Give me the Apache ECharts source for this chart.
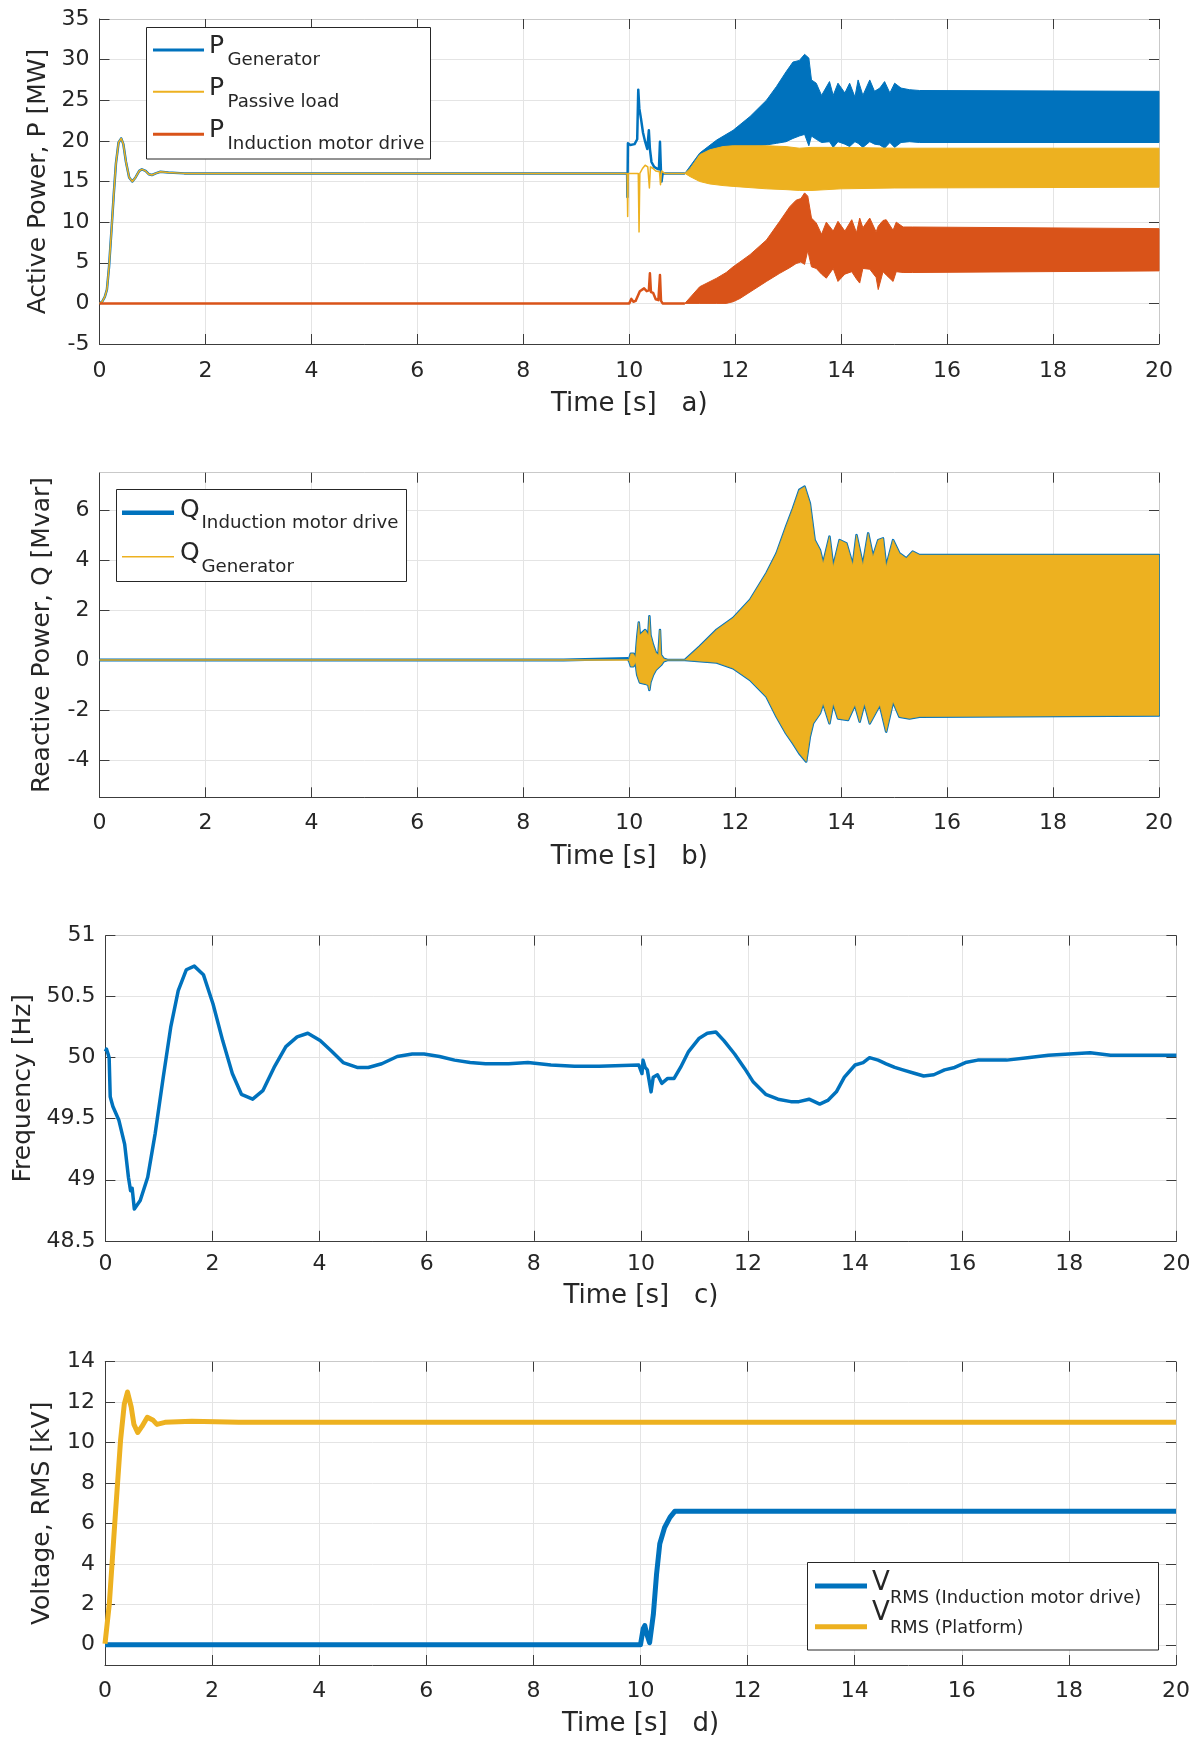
<!DOCTYPE html>
<html>
<head>
<meta charset="utf-8">
<script src="https://cdn.jsdelivr.net/npm/echarts@6/dist/echarts.min.js"></script>
<style>
  html, body { margin: 0; padding: 0; background: #ffffff; }
  #chart { width: 1203px; height: 1740px; }
</style>
</head>
<body>
<div id="chart"></div>
<script>
// ---------------- a) Active power [MW] ----------------
// Generator: start-up transient, switching events near 10 s (line part)
const pGenT = [0, 0.05, 0.1, 0.14, 0.18, 0.23, 0.27, 0.31, 0.36, 0.41, 0.45, 0.5, 0.56, 0.62, 0.68, 0.75, 0.8, 0.87, 0.93, 0.99, 1.06, 1.15, 1.3, 1.6,
  9.96, 9.965, 9.975, 10.02, 10.1, 10.15, 10.17, 10.19, 10.22, 10.26, 10.3, 10.34, 10.37, 10.39, 10.42, 10.47, 10.52, 10.56, 10.58, 10.6, 10.61, 10.63, 10.67, 11.05];
const pGenV = [0, 0.2, 0.8, 1.7, 4.5, 9.4, 13.5, 17.2, 19.8, 20.3, 19.6, 17.4, 15.5, 15.0, 15.5, 16.3, 16.5, 16.3, 15.9, 15.8, 16.0, 16.2, 16.1, 16.0,
  16.0, 13.1, 19.7, 19.5, 19.6, 20.2, 26.3, 24.0, 22.8, 21.0, 19.9, 19.0, 21.3, 19.0, 17.4, 16.8, 16.6, 16.5, 19.9, 16.0, 15.0, 16.0, 16.0, 16.0];
// Generator: oscillating band after 11 s (upper / lower envelope)
const pGenBandT  = [11.05, 11.33, 11.65, 11.96, 12.28, 12.59, 12.78, 12.96, 13.09, 13.21, 13.31, 13.39, 13.44, 13.53, 13.63, 13.78, 13.85, 13.94, 14.07, 14.16, 14.26, 14.32, 14.41, 14.54, 14.63, 14.73, 14.82, 14.92, 15.01, 15.13, 15.29, 15.48, 20.0];
const pGenBandHi = [16.0, 18.5, 20.1, 21.3, 23.0, 25.0, 26.7, 28.5, 29.7, 29.9, 30.65, 30.2, 27.5, 27.1, 25.6, 27.3, 25.6, 27.1, 25.9, 27.1, 25.4, 27.5, 25.6, 27.5, 26.1, 26.5, 27.3, 25.9, 27.1, 26.5, 26.3, 26.2, 26.1];
const pGenBandLo = [16.0, 17.4, 18.4, 19.0, 19.3, 19.5, 19.7, 19.9, 20.3, 20.6, 20.8, 19.4, 20.6, 20.2, 19.8, 19.9, 19.2, 19.9, 19.6, 19.3, 19.9, 19.7, 19.2, 19.9, 19.6, 19.5, 19.1, 19.8, 19.2, 19.8, 19.9, 19.8, 19.8];

// Passive load
const pLoadT = [0, 0.05, 0.1, 0.14, 0.18, 0.23, 0.27, 0.31, 0.36, 0.41, 0.45, 0.5, 0.56, 0.62, 0.68, 0.75, 0.8, 0.87, 0.93, 0.99, 1.06, 1.15, 1.3, 1.6,
  9.96, 9.97, 9.98, 10.17, 10.185, 10.2, 10.25, 10.3, 10.35, 10.38, 10.4, 10.45, 10.5, 10.57, 10.59, 10.61, 10.67, 11.05];
const pLoadV = [0, 0.2, 0.8, 1.7, 4.5, 9.4, 13.5, 17.2, 19.8, 20.3, 19.6, 17.4, 15.5, 15.0, 15.5, 16.3, 16.5, 16.3, 15.9, 15.8, 16.0, 16.2, 16.1, 16.0,
  16.0, 10.7, 16.0, 16.0, 8.8, 16.0, 16.6, 17.0, 16.8, 14.2, 16.8, 16.6, 16.3, 16.2, 14.6, 16.3, 16.0, 16.0];
const pLoadBandT  = [11.05, 11.15, 11.33, 11.52, 11.77, 11.96, 12.59, 12.96, 13.21, 13.45, 14.0, 15.0, 20.0];
const pLoadBandHi = [16.0, 16.6, 18.3, 18.9, 19.3, 19.4, 19.4, 19.3, 19.1, 19.2, 19.2, 19.1, 19.1];
const pLoadBandLo = [16.0, 15.6, 15.0, 14.7, 14.5, 14.4, 14.1, 14.0, 13.9, 13.9, 14.1, 14.2, 14.3];

// Induction motor drive
const pImT = [0, 10.0, 10.04, 10.08, 10.12, 10.2, 10.28, 10.33, 10.37, 10.39, 10.41, 10.45, 10.5, 10.55, 10.57, 10.58, 10.6, 10.63, 11.05];
const pImV = [0, 0, 0.55, 0.2, 0.3, 1.5, 1.85, 1.5, 1.6, 3.7, 1.4, 1.3, 0.5, 0.4, 0.6, 3.5, 0.3, 0.0, 0];
const pImBandT  = [11.05, 11.33, 11.65, 11.83, 11.96, 12.09, 12.28, 12.59, 12.84, 13.03, 13.15, 13.24, 13.31, 13.37, 13.44, 13.53, 13.63, 13.72, 13.85, 13.94, 14.07, 14.2, 14.29, 14.35, 14.41, 14.54, 14.66, 14.7, 14.79, 14.85, 14.98, 15.04, 15.17, 15.35, 20.0];
const pImBandHi = [0, 2.05, 3.1, 3.8, 4.5, 5.1, 6.0, 7.8, 10.1, 11.9, 12.7, 12.9, 13.6, 13.2, 10.5, 9.9, 8.5, 10.0, 8.9, 10.1, 8.9, 10.3, 8.7, 10.5, 9.3, 10.5, 8.8, 9.5, 10.2, 10.3, 9.0, 10.0, 9.4, 9.4, 9.2];
const pImBandLo = [0, 0, 0, 0, 0.2, 0.6, 1.4, 2.7, 3.7, 4.4, 4.9, 5.1, 4.8, 6.5, 4.5, 4.3, 3.6, 3.1, 4.3, 2.7, 3.6, 3.9, 3.0, 2.5, 4.3, 4.2, 3.2, 1.7, 3.9, 3.5, 2.7, 3.9, 3.8, 3.8, 4.0];

// ---------------- b) Reactive power [Mvar] ----------------
const qImT = [0, 8.76, 8.77, 9.98];
const qImV = [0, 0, 0.06, 0.06];
const qGenT = [0, 9.98];
const qGenV = [0, 0];
// shared oscillation envelope of both reactive-power traces
const qBandHiT = [9.98, 10.0, 10.03, 10.08, 10.12, 10.15, 10.18, 10.2, 10.3, 10.36, 10.38, 10.4, 10.45, 10.5, 10.55, 10.58, 10.6, 10.65, 10.72, 11.05,
  11.33, 11.65, 11.96, 12.28, 12.59, 12.78, 12.96, 13.09, 13.21, 13.31, 13.41, 13.5, 13.6, 13.66, 13.78, 13.85, 13.97, 14.1, 14.22, 14.29,
  14.41, 14.51, 14.6, 14.7, 14.79, 14.85, 14.98, 15.1, 15.23, 15.35, 15.48, 20.0];
const qBandHi = [0, 0.05, 0.25, 0.25, 0.1, 0.9, 1.5, 1.0, 1.2, 1.0, 1.75, 1.0, 0.6, 0.3, 0.2, 1.2, 0.2, 0.05, 0, 0,
  0.54, 1.21, 1.68, 2.41, 3.48, 4.27, 5.34, 6.07, 6.81, 6.94, 6.27, 4.8, 4.4, 3.87, 4.94, 3.74, 4.8, 4.67, 3.8, 5.0,
  3.8, 5.07, 4.14, 4.8, 4.87, 3.74, 4.8, 4.27, 4.07, 4.34, 4.2, 4.2];
const qBandLoT = [9.98, 10.0, 10.03, 10.08, 10.12, 10.15, 10.2, 10.3, 10.36, 10.38, 10.4, 10.45, 10.5, 10.55, 10.6, 10.65, 10.72, 11.05, 11.65, 11.96,
  12.28, 12.59, 12.78, 12.96, 13.09, 13.21, 13.34, 13.41, 13.47, 13.6, 13.66, 13.78, 13.85, 13.94, 14.13, 14.26, 14.35, 14.44, 14.54, 14.73,
  14.85, 14.98, 15.1, 15.29, 15.48, 20.0];
const qBandLo = [0, -0.05, -0.25, -0.25, -0.1, -0.6, -0.9, -0.95, -1.0, -1.2, -0.9, -0.6, -0.4, -0.3, -0.2, -0.05, 0, 0, -0.1, -0.33,
  -0.8, -1.47, -2.27, -2.94, -3.34, -3.74, -4.07, -3.07, -2.54, -2.14, -1.74, -2.54, -1.74, -2.34, -2.4, -1.8, -2.47, -1.74, -2.54, -1.8,
  -2.87, -1.67, -2.27, -2.34, -2.27, -2.22];

// ---------------- c) Frequency [Hz] ----------------
const freqT = [0, 0.02, 0.05, 0.07, 0.09, 0.14, 0.25, 0.36, 0.43, 0.47,
  0.5, 0.54, 0.65, 0.79, 0.93, 1.08, 1.22, 1.36, 1.51, 1.66,
  1.83, 2.01, 2.19, 2.37, 2.54, 2.75, 2.94, 3.15, 3.37, 3.58,
  3.78, 4.01, 4.23, 4.44, 4.7, 4.91, 5.16, 5.45, 5.73, 5.95,
  6.24, 6.52, 6.81, 7.1, 7.53, 7.89, 8.32, 8.76, 9.22, 9.96,
  10.02, 10.04, 10.08, 10.12, 10.19, 10.23, 10.31, 10.39, 10.5, 10.62,
  10.74, 10.89, 11.09, 11.24, 11.4, 11.55, 11.75, 11.94, 12.1, 12.33,
  12.56, 12.8, 12.95, 13.14, 13.34, 13.49, 13.65, 13.8, 14.0, 14.15,
  14.27, 14.43, 14.58, 14.74, 14.89, 15.12, 15.28, 15.47, 15.67, 15.86,
  16.06, 16.29, 16.52, 16.83, 17.22, 17.61, 18.0, 18.39, 18.77, 19.16,
  19.55, 20.0];
const freqV = [50.05, 50.07, 50.03, 50.0, 49.68, 49.6, 49.49, 49.29, 49.02, 48.91,
  48.93, 48.76, 48.83, 49.02, 49.38, 49.84, 50.25, 50.55, 50.72, 50.75,
  50.68, 50.44, 50.14, 49.87, 49.7, 49.66, 49.73, 49.92, 50.09, 50.17,
  50.2, 50.14, 50.05, 49.96, 49.92, 49.92, 49.95, 50.01, 50.03, 50.03,
  50.01, 49.98, 49.96, 49.95, 49.95, 49.96, 49.94, 49.93, 49.93, 49.94,
  49.87, 49.98, 49.92, 49.9, 49.72, 49.84, 49.86, 49.79, 49.83, 49.83,
  49.92, 50.05, 50.16, 50.2, 50.21, 50.14, 50.03, 49.91, 49.8, 49.7,
  49.66, 49.64, 49.64, 49.66, 49.62, 49.65, 49.72, 49.84, 49.94, 49.96,
  50.0, 49.98, 49.95, 49.92, 49.9, 49.87, 49.85, 49.86, 49.9, 49.92,
  49.96, 49.98, 49.98, 49.98, 50.0, 50.02, 50.03, 50.04, 50.02, 50.02,
  50.02, 50.02];

// ---------------- d) RMS voltage [kV] ----------------
const vImT = [0, 10.0, 10.05, 10.08, 10.11, 10.17, 10.24, 10.3, 10.36, 10.45, 10.55, 10.64, 20];
const vImV = [0, 0, 0.8, 0.95, 0.6, 0.1, 1.5, 3.5, 5.0, 5.8, 6.3, 6.6, 6.6];
const vPlatT = [0, 0.08, 0.19, 0.29, 0.36, 0.42, 0.49, 0.54, 0.61, 0.69, 0.79, 0.9, 0.97, 1.12, 1.62, 2.5, 20];
const vPlatV = [0.05, 2.0, 6.3, 10.1, 11.9, 12.5, 11.75, 10.9, 10.5, 10.8, 11.25, 11.1, 10.9, 11.0, 11.05, 11.0, 11.0];

// axis tick values
const timeInterval = 2;
const qTicks = [-4, -2, 0, 2, 4, 6];
const vTicks = [0, 2, 4, 6, 8, 10, 12, 14];

// ---------------- styling ----------------
const BLUE = '#0072BD', ORANGE = '#D95319', YELLOW = '#EDB120';
const TXT = '#262626', AXC = '#3c3c3c', FRAME = '#c9c9c9', GRIDC = '#e4e4e4';
const FONT = 'DejaVu Sans';

const grids = [
  { left: 99.5, top: 19, width: 1059.5, height: 325 },
  { left: 99.5, top: 472.7, width: 1059.5, height: 324.6 },
  { left: 105.4, top: 935.6, width: 1071, height: 305.2 },
  { left: 105, top: 1361.7, width: 1071, height: 303.3 }
];

function xAxes(gi, title, labelMargin, nameGap) {
  const bottom = {
    type: 'value', gridIndex: gi, position: 'bottom', min: 0, max: 20, interval: timeInterval,
    axisLine: { show: true, onZero: false, lineStyle: { color: AXC, width: 1 } },
    axisTick: { show: true, inside: true, length: 10, lineStyle: { color: AXC, width: 1 } },
    axisLabel: { color: TXT, fontSize: 22, fontFamily: FONT, margin: labelMargin },
    splitLine: { show: true, lineStyle: { color: GRIDC, width: 1 } },
    name: title, nameLocation: 'middle', nameGap: nameGap,
    nameTextStyle: { color: TXT, fontSize: 26, fontFamily: FONT }
  };
  const top = {
    type: 'value', gridIndex: gi, position: 'top', min: 0, max: 20, interval: timeInterval,
    axisLine: { show: true, onZero: false, lineStyle: { color: FRAME, width: 1 } },
    axisTick: { show: true, inside: true, length: 10, lineStyle: { color: AXC, width: 1 } },
    axisLabel: { show: false }, splitLine: { show: false }
  };
  return [bottom, top];
}

function yAxes(gi, range, title, nameGap) {
  const common = { type: 'value', gridIndex: gi, min: range.min, max: range.max };
  if (range.interval) common.interval = range.interval;
  const tickCustom = range.ticks ? { customValues: range.ticks } : {};
  const left = Object.assign({}, common, {
    position: 'left',
    axisLine: { show: true, onZero: false, lineStyle: { color: AXC, width: 1 } },
    axisTick: Object.assign({ show: true, inside: true, length: 10, lineStyle: { color: AXC, width: 1 } }, tickCustom),
    axisLabel: Object.assign({ color: TXT, fontSize: 22, fontFamily: FONT, margin: 10 }, tickCustom),
    splitLine: { show: true, lineStyle: { color: GRIDC, width: 1 } },
    name: title, nameLocation: 'middle', nameGap: nameGap, nameRotate: 90,
    nameTextStyle: { color: TXT, fontSize: 25, fontFamily: FONT }
  });
  const right = Object.assign({}, common, {
    position: 'right',
    axisLine: { show: true, onZero: false, lineStyle: { color: FRAME, width: 1 } },
    axisTick: Object.assign({ show: true, inside: true, length: 10, lineStyle: { color: AXC, width: 1 } }, tickCustom),
    axisLabel: Object.assign({ show: false }, tickCustom),
    splitLine: { show: false }
  });
  return [left, right];
}

let zc = 2;
function lineSeries(name, gi, t, v, color, width) {
  return {
    name: name, type: 'line', xAxisIndex: gi * 2, yAxisIndex: gi * 2,
    data: t.map((x, i) => [x, v[i]]),
    showSymbol: false, symbol: 'none', clip: true, silent: true, animation: false,
    lineStyle: { color: color, width: width, join: 'round' }, itemStyle: { color: color },
    z: zc++
  };
}

// filled envelope of a fast oscillation: upper edge forward, lower edge back
function bandSeries(name, gi, tHi, hi, tLo, lo, fill, stroke, strokeWidth) {
  return {
    name: name, type: 'custom', xAxisIndex: gi * 2, yAxisIndex: gi * 2,
    data: [[tHi[0], hi[0]]], clip: true, silent: true, animation: false, z: zc++,
    renderItem: function (params, api) {
      const pts = [];
      for (let i = 0; i < tHi.length; i++) pts.push(api.coord([tHi[i], hi[i]]));
      for (let i = tLo.length - 1; i >= 0; i--) pts.push(api.coord([tLo[i], lo[i]]));
      return {
        type: 'polygon', shape: { points: pts },
        style: { fill: fill, stroke: stroke, lineWidth: strokeWidth, lineJoin: 'round' }
      };
    }
  };
}

const series = [
  // a)
  lineSeries('P Generator', 0, pGenT, pGenV, BLUE, 2.5),
  bandSeries('P Generator band', 0, pGenBandT, pGenBandHi, pGenBandT, pGenBandLo, BLUE, BLUE, 1),
  lineSeries('P Passive load', 0, pLoadT, pLoadV, YELLOW, 1.5),
  bandSeries('P Passive load band', 0, pLoadBandT, pLoadBandHi, pLoadBandT, pLoadBandLo, YELLOW, YELLOW, 1),
  lineSeries('P Induction motor drive', 0, pImT, pImV, ORANGE, 2.5),
  bandSeries('P Induction motor drive band', 0, pImBandT, pImBandHi, pImBandT, pImBandLo, ORANGE, ORANGE, 1),
  // b)
  lineSeries('Q Induction motor drive', 1, qImT, qImV, BLUE, 3),
  bandSeries('Q Induction motor drive band', 1, qBandHiT, qBandHi, qBandLoT, qBandLo, BLUE, BLUE, 2.5),
  lineSeries('Q Generator', 1, qGenT, qGenV, YELLOW, 1.5),
  bandSeries('Q Generator band', 1, qBandHiT, qBandHi, qBandLoT, qBandLo, YELLOW, YELLOW, 0.5),
  // c)
  lineSeries('Frequency', 2, freqT, freqV, BLUE, 3.5),
  // d)
  lineSeries('V RMS induction motor drive', 3, vImT, vImV, BLUE, 5),
  lineSeries('V RMS platform', 3, vPlatT, vPlatV, YELLOW, 5)
];

// legend boxes with subscripted labels
function legendText(x, y, str, size) {
  return { type: 'text', z: 101, style: { text: str, x: x, y: y, fill: TXT, font: size + 'px "' + FONT + '"', align: 'left', verticalAlign: 'middle' } };
}
function legendLine(x1, x2, y, color, w) {
  return { type: 'line', z: 101, shape: { x1: x1, y1: y, x2: x2, y2: y }, style: { stroke: color, lineWidth: w } };
}
function legendBox(x, y, w, h) {
  return { type: 'rect', z: 100, shape: { x: x, y: y, width: w, height: h }, style: { fill: '#ffffff', stroke: TXT, lineWidth: 1 } };
}

const graphic = [
  legendBox(146.5, 27.5, 284, 131.5),
  legendLine(153, 204, 50, BLUE, 3),
  legendText(209, 46, 'P', 25), legendText(227.5, 60, 'Generator', 18.2),
  legendLine(153, 204, 91.7, YELLOW, 2),
  legendText(209, 88, 'P', 25), legendText(227.5, 102.5, 'Passive load', 18.2),
  legendLine(153, 204, 134.3, ORANGE, 3),
  legendText(209, 130, 'P', 25), legendText(227.5, 144, 'Induction motor drive', 18.2),

  legendBox(116.5, 489.5, 290, 92),
  legendLine(122, 174, 512.7, BLUE, 4.5),
  legendText(180, 510, 'Q', 25), legendText(201.5, 523.5, 'Induction motor drive', 18.2),
  legendLine(122, 174, 556.7, YELLOW, 1.5),
  legendText(180, 553.5, 'Q', 25), legendText(201.5, 567, 'Generator', 18.2),

  legendBox(807.5, 1562.5, 351, 87.5),
  legendLine(815, 867, 1586, BLUE, 5),
  legendText(872, 1583.5, 'V', 26), legendText(890, 1598, 'RMS (Induction motor drive)', 17.8),
  legendLine(815, 867, 1626.7, YELLOW, 5),
  legendText(872, 1613, 'V', 26), legendText(890, 1628, 'RMS (Platform)', 17.8)
];

const option = {
  backgroundColor: '#ffffff',
  animation: false,
  grid: grids,
  xAxis: [].concat(
    xAxes(0, 'Time [s]   a)', 16, 47),
    xAxes(1, 'Time [s]   b)', 15, 47),
    xAxes(2, 'Time [s]   c)', 12, 42),
    xAxes(3, 'Time [s]   d)', 15, 46)
  ),
  yAxis: [].concat(
    yAxes(0, { min: -5, max: 35, interval: 5 }, 'Active Power, P [MW]', 47),
    yAxes(1, { min: -5.5, max: 7.5, ticks: qTicks }, 'Reactive Power, Q [Mvar]', 45),
    yAxes(2, { min: 48.5, max: 51, interval: 0.5 }, 'Frequency [Hz]', 68),
    yAxes(3, { min: -1, max: 14, ticks: vTicks }, 'Voltage, RMS [kV]', 50)
  ),
  series: series,
  graphic: graphic
};

const chart = echarts.init(document.getElementById('chart'), null, { renderer: 'canvas' });
chart.setOption(option);
</script>
</body>
</html>
